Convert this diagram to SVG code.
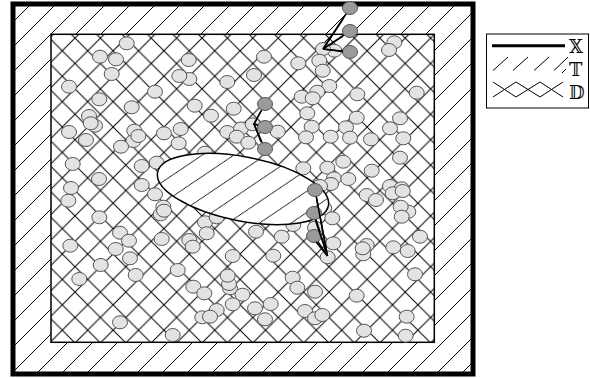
<svg xmlns="http://www.w3.org/2000/svg" width="590" height="378" viewBox="0 0 590 378">
<style>
.lc{fill:#e3e3e3;stroke:#555;stroke-width:1}
.dc{fill:#9a9a9a;stroke:#555;stroke-width:1}
.cn{stroke:#000;stroke-width:1.5;fill:none}
.lg{font-family:"DejaVu Serif","DejaVu Sans",serif;font-size:18px;fill:#000}
</style>
<defs>
<pattern id="hatch" patternUnits="userSpaceOnUse" width="25" height="25" patternTransform="translate(10,0)">
<path d="M-1,26 L26,-1 M-1,1 L1,-1 M24,26 L26,24" stroke="#000" stroke-width="1"/>
</pattern>
<pattern id="cross" patternUnits="userSpaceOnUse" width="25.4" height="25.4" patternTransform="translate(11.5,0)">
<path d="M-1,26.4 L26.4,-1 M-1,-1 L26.4,26.4" stroke="#000" stroke-width="1"/>
</pattern>
</defs>
<rect width="590" height="378" fill="#fff"/>
<g id="outer-band">
<rect x="13" y="4" width="460" height="370" fill="url(#hatch)"/>
</g>
<g id="inner-region">
<rect x="51" y="34.3" width="383.3" height="308" fill="#fff"/>
<rect x="51" y="34.3" width="383.3" height="308" fill="url(#cross)" stroke="#000" stroke-width="1.5"/>
</g>
<g id="outer-border">
<rect x="13" y="4" width="460" height="370" fill="none" stroke="#000" stroke-width="5"/>
</g>
<g id="particles">
<ellipse class="lc" cx="126.7" cy="43.3" rx="7.5" ry="6.5"/>
<ellipse class="lc" cx="100" cy="56.7" rx="7.5" ry="6.5"/>
<ellipse class="lc" cx="116" cy="59.3" rx="7.5" ry="6.5"/>
<ellipse class="lc" cx="111.7" cy="74" rx="7.5" ry="6.5"/>
<ellipse class="lc" cx="188.7" cy="60" rx="7.5" ry="6.5"/>
<ellipse class="lc" cx="189.3" cy="79" rx="7.5" ry="6.5"/>
<ellipse class="lc" cx="179.3" cy="76" rx="7.5" ry="6.5"/>
<ellipse class="lc" cx="227.3" cy="82" rx="7.5" ry="6.5"/>
<ellipse class="lc" cx="69" cy="86.7" rx="7.5" ry="6.5"/>
<ellipse class="lc" cx="99.3" cy="99.3" rx="7.5" ry="6.5"/>
<ellipse class="lc" cx="155" cy="91.7" rx="7.5" ry="6.5"/>
<ellipse class="lc" cx="131.7" cy="107.3" rx="7.5" ry="6.5"/>
<ellipse class="lc" cx="194.7" cy="105.7" rx="7.5" ry="6.5"/>
<ellipse class="lc" cx="211" cy="115.7" rx="7.5" ry="6.5"/>
<ellipse class="lc" cx="233.7" cy="108.7" rx="7.5" ry="6.5"/>
<ellipse class="lc" cx="89" cy="116" rx="7.5" ry="6.5"/>
<ellipse class="lc" cx="95" cy="125.7" rx="7.5" ry="6.5"/>
<ellipse class="lc" cx="90.7" cy="123.3" rx="7.5" ry="6.5"/>
<ellipse class="lc" cx="69" cy="132" rx="7.5" ry="6.5"/>
<ellipse class="lc" cx="86" cy="140" rx="7.5" ry="6.5"/>
<ellipse class="lc" cx="133.3" cy="141" rx="7.5" ry="6.5"/>
<ellipse class="lc" cx="134.3" cy="130.7" rx="7.5" ry="6.5"/>
<ellipse class="lc" cx="138.3" cy="136" rx="7.5" ry="6.5"/>
<ellipse class="lc" cx="164" cy="133.3" rx="7.5" ry="6.5"/>
<ellipse class="lc" cx="180.7" cy="129" rx="7.5" ry="6.5"/>
<ellipse class="lc" cx="178.7" cy="143.3" rx="7.5" ry="6.5"/>
<ellipse class="lc" cx="121" cy="146.7" rx="7.5" ry="6.5"/>
<ellipse class="lc" cx="227.3" cy="132" rx="7.5" ry="6.5"/>
<ellipse class="lc" cx="241" cy="128.5" rx="7.5" ry="6.5"/>
<ellipse class="lc" cx="236.7" cy="136.7" rx="7.5" ry="6.5"/>
<ellipse class="lc" cx="72.7" cy="164" rx="7.5" ry="6.5"/>
<ellipse class="lc" cx="141.7" cy="166" rx="7.5" ry="6.5"/>
<ellipse class="lc" cx="156.7" cy="162.7" rx="7.5" ry="6.5"/>
<ellipse class="lc" cx="205" cy="152.7" rx="7.5" ry="6.5"/>
<ellipse class="lc" cx="99" cy="179" rx="7.5" ry="6.5"/>
<ellipse class="lc" cx="71" cy="188" rx="7.5" ry="6.5"/>
<ellipse class="lc" cx="141.7" cy="185" rx="7.5" ry="6.5"/>
<ellipse class="lc" cx="334.3" cy="50.7" rx="7.5" ry="6.5"/>
<ellipse class="lc" cx="323" cy="49" rx="7.5" ry="6.5"/>
<ellipse class="lc" cx="394.3" cy="42.3" rx="7.5" ry="6.5"/>
<ellipse class="lc" cx="389" cy="50" rx="7.5" ry="6.5"/>
<ellipse class="lc" cx="264" cy="56.7" rx="7.5" ry="6.5"/>
<ellipse class="lc" cx="298.3" cy="63.3" rx="7.5" ry="6.5"/>
<ellipse class="lc" cx="319.3" cy="60.7" rx="7.5" ry="6.5"/>
<ellipse class="lc" cx="322.7" cy="70.7" rx="7.5" ry="6.5"/>
<ellipse class="lc" cx="254" cy="75" rx="7.5" ry="6.5"/>
<ellipse class="lc" cx="329.3" cy="86" rx="7.5" ry="6.5"/>
<ellipse class="lc" cx="317.3" cy="91.7" rx="7.5" ry="6.5"/>
<ellipse class="lc" cx="301.7" cy="96.7" rx="7.5" ry="6.5"/>
<ellipse class="lc" cx="312.7" cy="98.3" rx="7.5" ry="6.5"/>
<ellipse class="lc" cx="357.3" cy="94.3" rx="7.5" ry="6.5"/>
<ellipse class="lc" cx="416.7" cy="92.7" rx="7.5" ry="6.5"/>
<ellipse class="lc" cx="307.3" cy="113.3" rx="7.5" ry="6.5"/>
<ellipse class="lc" cx="356.7" cy="117.7" rx="7.5" ry="6.5"/>
<ellipse class="lc" cx="400" cy="118.3" rx="7.5" ry="6.5"/>
<ellipse class="lc" cx="252.7" cy="124.3" rx="7.5" ry="6.5"/>
<ellipse class="lc" cx="277.7" cy="131.7" rx="7.5" ry="6.5"/>
<ellipse class="lc" cx="311.7" cy="126.7" rx="7.5" ry="6.5"/>
<ellipse class="lc" cx="346" cy="127.3" rx="7.5" ry="6.5"/>
<ellipse class="lc" cx="390" cy="128.3" rx="7.5" ry="6.5"/>
<ellipse class="lc" cx="306" cy="137.3" rx="7.5" ry="6.5"/>
<ellipse class="lc" cx="330.7" cy="136.7" rx="7.5" ry="6.5"/>
<ellipse class="lc" cx="350" cy="137.7" rx="7.5" ry="6.5"/>
<ellipse class="lc" cx="371" cy="139.3" rx="7.5" ry="6.5"/>
<ellipse class="lc" cx="403.3" cy="138.3" rx="7.5" ry="6.5"/>
<ellipse class="lc" cx="248.3" cy="142.7" rx="7.5" ry="6.5"/>
<ellipse class="lc" cx="400" cy="157.7" rx="7.5" ry="6.5"/>
<ellipse class="lc" cx="343.3" cy="161.7" rx="7.5" ry="6.5"/>
<ellipse class="lc" cx="303.3" cy="168.3" rx="7.5" ry="6.5"/>
<ellipse class="lc" cx="327.3" cy="167.7" rx="7.5" ry="6.5"/>
<ellipse class="lc" cx="371.7" cy="170.7" rx="7.5" ry="6.5"/>
<ellipse class="lc" cx="334" cy="178.3" rx="7.5" ry="6.5"/>
<ellipse class="lc" cx="348.3" cy="179" rx="7.5" ry="6.5"/>
<ellipse class="lc" cx="331" cy="184" rx="7.5" ry="6.5"/>
<ellipse class="lc" cx="320" cy="186" rx="7.5" ry="6.5"/>
<ellipse class="lc" cx="390" cy="186" rx="7.5" ry="6.5"/>
<ellipse class="lc" cx="401.7" cy="188.3" rx="7.5" ry="6.5"/>
<ellipse class="lc" cx="68.3" cy="200.7" rx="7.5" ry="6.5"/>
<ellipse class="lc" cx="155" cy="194.3" rx="7.5" ry="6.5"/>
<ellipse class="lc" cx="163.3" cy="206.7" rx="7.5" ry="6.5"/>
<ellipse class="lc" cx="160.7" cy="214.3" rx="7.5" ry="6.5"/>
<ellipse class="lc" cx="164" cy="210.7" rx="7.5" ry="6.5"/>
<ellipse class="lc" cx="99.3" cy="217.3" rx="7.5" ry="6.5"/>
<ellipse class="lc" cx="120" cy="232.7" rx="7.5" ry="6.5"/>
<ellipse class="lc" cx="129" cy="240.7" rx="7.5" ry="6.5"/>
<ellipse class="lc" cx="115.7" cy="249" rx="7.5" ry="6.5"/>
<ellipse class="lc" cx="161.7" cy="239" rx="7.5" ry="6.5"/>
<ellipse class="lc" cx="189.3" cy="240" rx="7.5" ry="6.5"/>
<ellipse class="lc" cx="192.7" cy="246.7" rx="7.5" ry="6.5"/>
<ellipse class="lc" cx="205" cy="222.3" rx="7.5" ry="6.5"/>
<ellipse class="lc" cx="216.7" cy="217.3" rx="7.5" ry="6.5"/>
<ellipse class="lc" cx="206.7" cy="233.3" rx="7.5" ry="6.5"/>
<ellipse class="lc" cx="70.3" cy="245.7" rx="7.5" ry="6.5"/>
<ellipse class="lc" cx="130" cy="258.3" rx="7.5" ry="6.5"/>
<ellipse class="lc" cx="100.7" cy="265" rx="7.5" ry="6.5"/>
<ellipse class="lc" cx="232.7" cy="256" rx="7.5" ry="6.5"/>
<ellipse class="lc" cx="177.7" cy="270" rx="7.5" ry="6.5"/>
<ellipse class="lc" cx="135.7" cy="275" rx="7.5" ry="6.5"/>
<ellipse class="lc" cx="79.3" cy="279" rx="7.5" ry="6.5"/>
<ellipse class="lc" cx="230" cy="288.3" rx="7.5" ry="6.5"/>
<ellipse class="lc" cx="229" cy="284" rx="7.5" ry="6.5"/>
<ellipse class="lc" cx="227.7" cy="275.7" rx="7.5" ry="6.5"/>
<ellipse class="lc" cx="193.3" cy="286.7" rx="7.5" ry="6.5"/>
<ellipse class="lc" cx="204.3" cy="293.3" rx="7.5" ry="6.5"/>
<ellipse class="lc" cx="242.5" cy="294.7" rx="7.5" ry="6.5"/>
<ellipse class="lc" cx="232.7" cy="304.3" rx="7.5" ry="6.5"/>
<ellipse class="lc" cx="216.7" cy="310" rx="7.5" ry="6.5"/>
<ellipse class="lc" cx="202.3" cy="317.3" rx="7.5" ry="6.5"/>
<ellipse class="lc" cx="210" cy="316.7" rx="7.5" ry="6.5"/>
<ellipse class="lc" cx="120" cy="322.3" rx="7.5" ry="6.5"/>
<ellipse class="lc" cx="172.7" cy="335" rx="7.5" ry="6.5"/>
<ellipse class="lc" cx="324.3" cy="208.3" rx="7.5" ry="6.5"/>
<ellipse class="lc" cx="332.3" cy="218.3" rx="7.5" ry="6.5"/>
<ellipse class="lc" cx="315" cy="227.7" rx="7.5" ry="6.5"/>
<ellipse class="lc" cx="333.3" cy="243.3" rx="7.5" ry="6.5"/>
<ellipse class="lc" cx="293.3" cy="225" rx="7.5" ry="6.5"/>
<ellipse class="lc" cx="256" cy="231.7" rx="7.5" ry="6.5"/>
<ellipse class="lc" cx="281.7" cy="236.7" rx="7.5" ry="6.5"/>
<ellipse class="lc" cx="273.3" cy="255.7" rx="7.5" ry="6.5"/>
<ellipse class="lc" cx="366.7" cy="195" rx="7.5" ry="6.5"/>
<ellipse class="lc" cx="376" cy="200" rx="7.5" ry="6.5"/>
<ellipse class="lc" cx="392.7" cy="193.3" rx="7.5" ry="6.5"/>
<ellipse class="lc" cx="402.7" cy="191" rx="7.5" ry="6.5"/>
<ellipse class="lc" cx="408.3" cy="211.7" rx="7.5" ry="6.5"/>
<ellipse class="lc" cx="400.7" cy="206.7" rx="7.5" ry="6.5"/>
<ellipse class="lc" cx="401.7" cy="216.7" rx="7.5" ry="6.5"/>
<ellipse class="lc" cx="420" cy="236.7" rx="7.5" ry="6.5"/>
<ellipse class="lc" cx="366.7" cy="245" rx="7.5" ry="6.5"/>
<ellipse class="lc" cx="363.3" cy="254.3" rx="7.5" ry="6.5"/>
<ellipse class="lc" cx="362.7" cy="248.3" rx="7.5" ry="6.5"/>
<ellipse class="lc" cx="393.3" cy="247.3" rx="7.5" ry="6.5"/>
<ellipse class="lc" cx="407.7" cy="251" rx="7.5" ry="6.5"/>
<ellipse class="lc" cx="415" cy="274.3" rx="7.5" ry="6.5"/>
<ellipse class="lc" cx="292.7" cy="277.7" rx="7.5" ry="6.5"/>
<ellipse class="lc" cx="297.3" cy="287.7" rx="7.5" ry="6.5"/>
<ellipse class="lc" cx="315" cy="291.7" rx="7.5" ry="6.5"/>
<ellipse class="lc" cx="356.7" cy="295.7" rx="7.5" ry="6.5"/>
<ellipse class="lc" cx="270.7" cy="304" rx="7.5" ry="6.5"/>
<ellipse class="lc" cx="255" cy="308.3" rx="7.5" ry="6.5"/>
<ellipse class="lc" cx="265" cy="319.3" rx="7.5" ry="6.5"/>
<ellipse class="lc" cx="305" cy="311" rx="7.5" ry="6.5"/>
<ellipse class="lc" cx="315" cy="318.3" rx="7.5" ry="6.5"/>
<ellipse class="lc" cx="322.3" cy="315" rx="7.5" ry="6.5"/>
<ellipse class="lc" cx="406.7" cy="316.7" rx="7.5" ry="6.5"/>
<ellipse class="lc" cx="364" cy="330.7" rx="7.5" ry="6.5"/>
<ellipse class="lc" cx="405.7" cy="335.7" rx="7.5" ry="6.5"/>
<ellipse class="lc" cx="327.7" cy="257.3" rx="7.5" ry="6.5"/>
</g>
<g id="inclusion">
<ellipse cx="243" cy="189" rx="87" ry="32" transform="rotate(11 243 189)" fill="#fff"/>
<ellipse cx="243" cy="189" rx="87" ry="32" transform="rotate(11 243 189)" fill="url(#hatch)" stroke="#000" stroke-width="1.5"/>
</g>
<g id="connectors">
<path class="cn" d="M323,49 L350,8 M323,49 L350,31 M323,49 L350,52"/>
<path class="cn" d="M265,104 L254,124 L265,127 M254,124 L265,149"/>
<path class="cn" d="M327.5,256 L315,190 M327.5,256 L314,213 M327.5,256 L314,236"/>
</g>
<g id="chain-1">
<ellipse class="dc" cx="350" cy="8" rx="7.5" ry="6.5"/>
<ellipse class="dc" cx="350" cy="31" rx="7.5" ry="6.5"/>
<ellipse class="dc" cx="350" cy="52" rx="7.5" ry="6.5"/>
</g>
<g id="chain-2">
<ellipse class="dc" cx="265" cy="104" rx="7.5" ry="6.5"/>
<ellipse class="dc" cx="265" cy="127" rx="7.5" ry="6.5"/>
<ellipse class="dc" cx="265" cy="149" rx="7.5" ry="6.5"/>
</g>
<g id="chain-3">
<ellipse class="dc" cx="315" cy="190" rx="7.5" ry="6.5"/>
<ellipse class="dc" cx="314" cy="213" rx="7.5" ry="6.5"/>
<ellipse class="dc" cx="314" cy="236" rx="7.5" ry="6.5"/>
</g>
<g id="connector-lines-over">
<path class="cn" d="M323,49 L343,19 M323,49 L343,36 M323,49 L343,51.5"/>
<path class="cn" d="M261,111 L254,124 L258,125 M254,124 L261,142"/>
<path class="cn" d="M327.5,256 L316.5,198 M327.5,256 L315.3,220 M327.5,256 L316,242"/>
</g>
<g id="legend">
<rect x="486.5" y="34" width="102" height="74" fill="#fff" stroke="#000" stroke-width="1"/>
<line x1="492" y1="45.7" x2="565" y2="45.7" stroke="#000" stroke-width="3"/>
<path d="M493,70.5 L508,57 M513,70.5 L528,57 M534,70.5 L549,57 M554,70.5 L568,57 M562,73 L566,69" stroke="#000" stroke-width="1" fill="none"/>
<path d="M493,82 L516,97 L540,82 L563,97 M493,97 L516,82 L540,97 L563,82" stroke="#000" stroke-width="1" fill="none"/>
<text class="lg" x="569" y="53">𝕏</text>
<text class="lg" x="569" y="76">𝕋</text>
<text class="lg" x="569" y="99">𝔻</text>
</g>
</svg>
